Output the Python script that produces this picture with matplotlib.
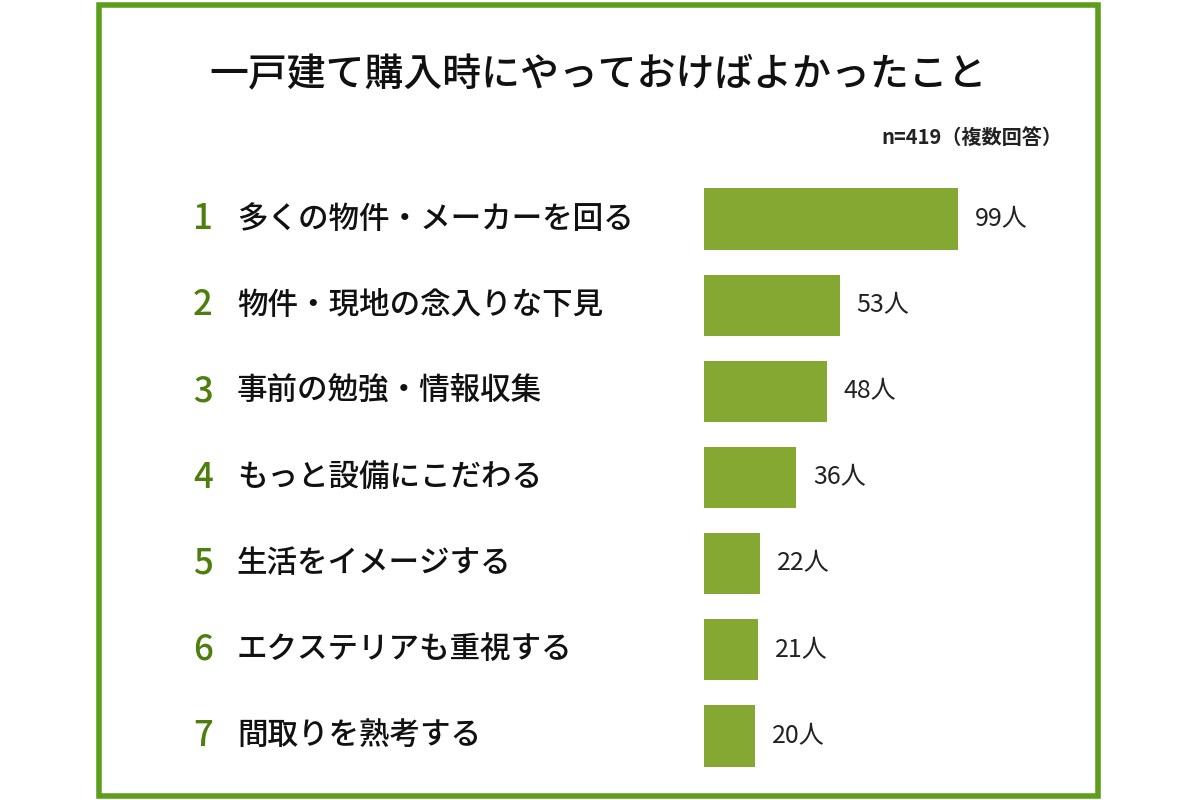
import matplotlib.pyplot as plt
import matplotlib.transforms as mtransforms
from matplotlib.patches import Rectangle

plt.rcParams['font.family'] = ['Noto Sans CJK JP', 'DejaVu Sans']

title = "一戸建て購入時にやっておけばよかったこと"
note = "n=419（複数回答）"
ranks = ["1", "2", "3", "4", "5", "6", "7"]
items = [
    "多くの物件・メーカーを回る",
    "物件・現地の念入りな下見",
    "事前の勉強・情報収集",
    "もっと設備にこだわる",
    "生活をイメージする",
    "エクステリアも重視する",
    "間取りを熟考する",
]
counts = [99, 53, 48, 36, 22, 21, 20]

bar_color = "#84a832"
rank_color = "#4d7f0e"
frame_color = "#5c9e1c"
W, H = 1200, 800

fig = plt.figure(figsize=(12, 8), dpi=100)

# green frame
fig.patches.append(Rectangle((99 / W, 4 / H), 999 / W, 791 / H, transform=fig.transFigure,
                             fill=False, edgecolor=frame_color, linewidth=4))

fig.text(598 / W, 1 - 75 / H, title, ha="center", va="center", fontsize=28,
         fontweight="medium", color="#111111")
fig.text(1062 / W, 1 - 137 / H, note, ha="right", va="center", fontsize=14.5,
         fontweight="bold", color="#222222")

ax = fig.add_axes([704 / W, 1 - 779 / H, 396 / W, 603 / H])
y = list(range(len(counts)))
ax.barh(y, counts, height=0.71, color=bar_color)
ax.set_xlim(0, 396 / 2.566)
ax.set_ylim(6.5, -0.5)
ax.axis("off")

for yi, c in zip(y, counts):
    ax.text(c + 6.5, yi, f"{c}人", ha="left", va="center", fontsize=18, color="#222222")

tr = mtransforms.blended_transform_factory(fig.transFigure, ax.transData)
for yi, r, lab in zip(y, ranks, items):
    fig.text(203 / W, yi, r, transform=tr, ha="center", va="center", fontsize=25,
             color=rank_color, fontweight="medium")
    fig.text(237 / W, yi, lab, transform=tr, ha="left", va="center", fontsize=22,
             fontweight="medium", color="#111111")

fig.savefig("out.png", dpi=100, facecolor="white")
